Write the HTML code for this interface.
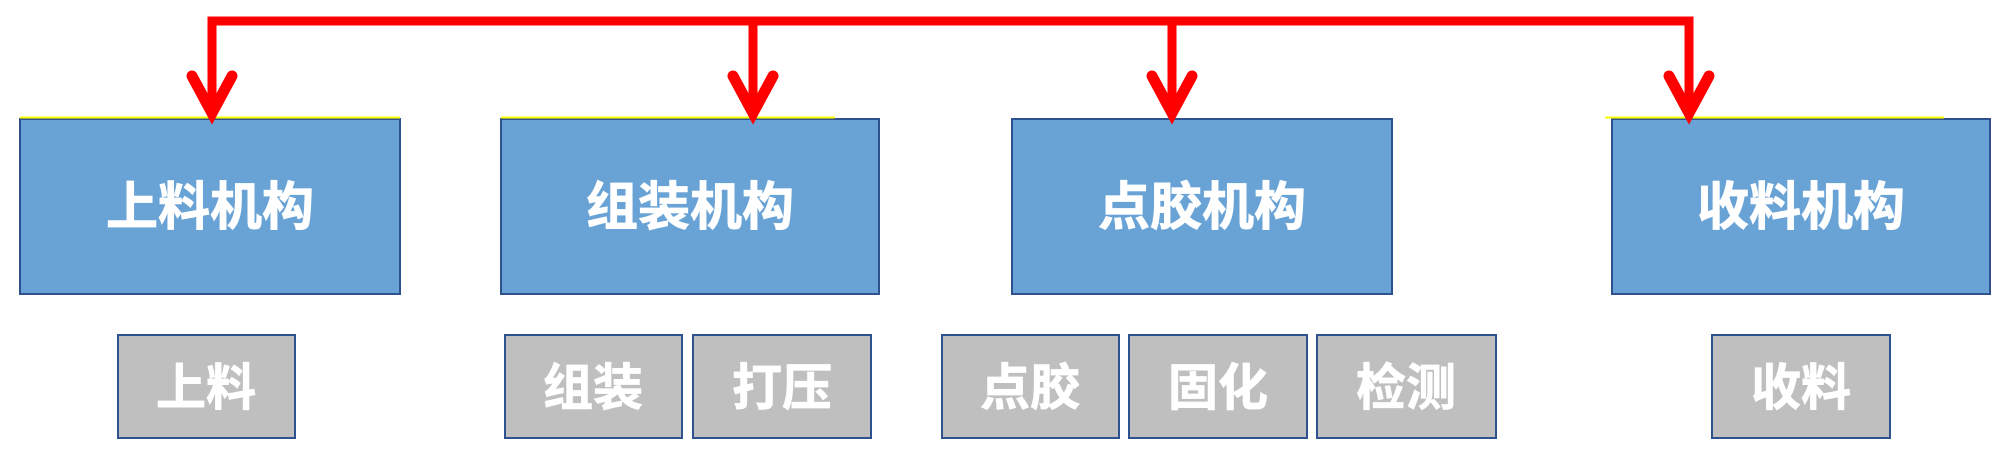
<!DOCTYPE html>
<html><head><meta charset="utf-8"><style>
html,body{margin:0;padding:0;background:#fff;}
svg{display:block;}
text{font-family:"Liberation Sans","Noto Sans CJK SC",sans-serif;font-weight:700;fill:#fff;stroke:#fff;stroke-width:0.8;text-anchor:middle;}
</style></head><body>
<svg width="2000" height="451" viewBox="0 0 2000 451" xmlns="http://www.w3.org/2000/svg">
<g fill="#69a3d6" stroke="#2f528f" stroke-width="2">
<rect x="20" y="119" width="380" height="175"/>
<rect x="501" y="119" width="378" height="175"/>
<rect x="1012" y="119" width="380" height="175"/>
<rect x="1612" y="119" width="378" height="175"/>
</g>
<g stroke="#ffff00" stroke-width="2">
<line x1="20" y1="117.5" x2="400" y2="117.5"/>
<line x1="501" y1="117.5" x2="835" y2="117.5"/>
<line x1="1605" y1="117.5" x2="1944" y2="117.5"/>
</g>
<g fill="#bfbfbf" stroke="#2f528f" stroke-width="2">
<rect x="118" y="335" width="177" height="103"/>
<rect x="505" y="335" width="177" height="103"/>
<rect x="693" y="335" width="178" height="103"/>
<rect x="942" y="335" width="177" height="103"/>
<rect x="1129" y="335" width="178" height="103"/>
<rect x="1317" y="335" width="179" height="103"/>
<rect x="1712" y="335" width="178" height="103"/>
</g>
<g stroke="#ff0000" stroke-width="9" fill="none">
<polyline points="212,115 212,21 1689,21 1689,115"/>
<line x1="753" y1="21" x2="753" y2="115"/>
<line x1="1172" y1="21" x2="1172" y2="115"/>
</g>
<g stroke="#ff0000" stroke-width="11" fill="none" stroke-linecap="round" stroke-linejoin="miter">
<polyline points="192,76 212,113 232,76"/>
<polyline points="733,76 753,113 773,76"/>
<polyline points="1152,76 1172,113 1192,76"/>
<polyline points="1669,76 1689,113 1709,76"/>
</g>
<g font-size="52">
<text x="210" y="225">上料机构</text>
<text x="690" y="225">组装机构</text>
<text x="1202" y="225">点胶机构</text>
<text x="1801" y="225">收料机构</text>
</g>
<g font-size="50">
<text x="206" y="405">上料</text>
<text x="593" y="405">组装</text>
<text x="782" y="405">打压</text>
<text x="1030" y="405">点胶</text>
<text x="1218" y="405">固化</text>
<text x="1406" y="405">检测</text>
<text x="1801" y="405">收料</text>
</g>
</svg>
</body></html>
